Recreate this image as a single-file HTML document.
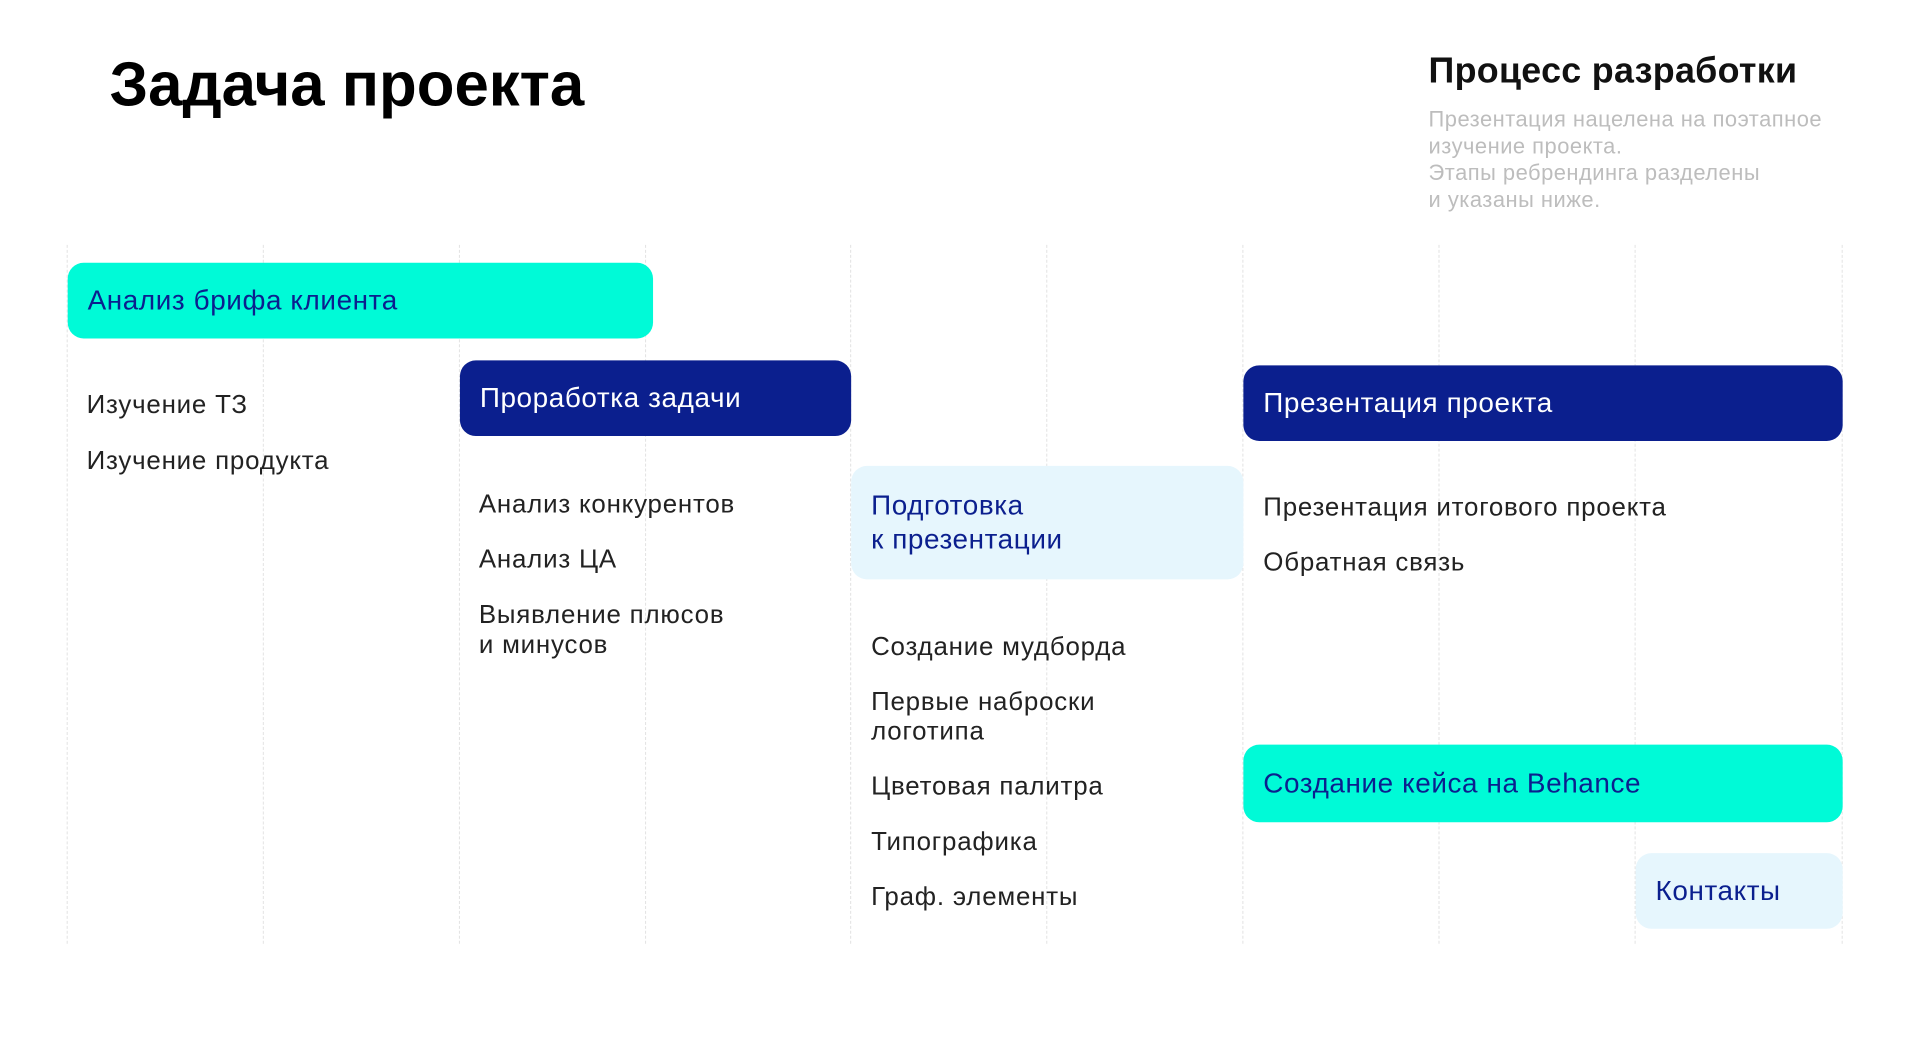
<!DOCTYPE html>
<html><head><meta charset="utf-8"><style>
html,body{margin:0;padding:0;background:#fff;}
body{width:1920px;height:1044px;position:relative;overflow:hidden;font-family:"Liberation Sans","Noto Sans CJK SC",sans-serif;}
#w{position:absolute;left:0;top:0;width:1920px;height:1044px;transform:scale(0.9955);transform-origin:0 0;}
.v{position:absolute;top:246px;height:702px;width:0;border-left:1.5px dashed #e2e2e2;}
.b{position:absolute;border-radius:16px;box-sizing:border-box;padding-left:20px;font-size:28px;letter-spacing:0.6px;display:flex;align-items:center;line-height:34px;}
.cy{background:#00FAD7;color:#0B1F8E;}
.nv{background:#0B1F8E;color:#fff;}
.lt{background:#E6F6FD;color:#0B1F8E;}
.t{position:absolute;font-size:26px;letter-spacing:0.8px;color:#222;line-height:30px;white-space:nowrap;}
</style></head><body><div id="w">
<div style="position:absolute;left:110px;top:50px;font-size:62px;font-weight:bold;color:#000;">Задача проекта</div>
<div style="position:absolute;left:1435px;top:50px;font-size:36px;font-weight:bold;color:#111;letter-spacing:0.3px;">Процесс разработки</div>
<div style="position:absolute;left:1435px;top:106px;font-size:22px;letter-spacing:0.5px;line-height:27px;color:#bdbdbd;">Презентация нацелена на поэтапное<br>изучение проекта.<br>Этапы ребрендинга разделены<br>и указаны ниже.</div>
<div class="v" style="left:67px"></div><div class="v" style="left:264px"></div><div class="v" style="left:461px"></div><div class="v" style="left:648px"></div><div class="v" style="left:854px"></div><div class="v" style="left:1051px"></div><div class="v" style="left:1248px"></div><div class="v" style="left:1445px"></div><div class="v" style="left:1642px"></div><div class="v" style="left:1850px"></div>
<div class="b cy" style="left:68px;top:264px;width:588px;height:76px;">Анализ брифа клиента</div>
<div class="b nv" style="left:462px;top:362px;width:393px;height:76px;">Проработка задачи</div>
<div class="b nv" style="left:1249px;top:367px;width:602px;height:76px;">Презентация проекта</div>
<div class="b lt" style="left:855px;top:468px;width:394px;height:114px;">Подготовка<br>к презентации</div>
<div class="b cy" style="left:1249px;top:748px;width:602px;height:78px;">Создание кейса на Behance</div>
<div class="b lt" style="left:1643px;top:857px;width:208px;height:76px;">Контакты</div>
<div class="t" style="left:87px;top:391px">Изучение ТЗ</div>
<div class="t" style="left:87px;top:447px">Изучение продукта</div>
<div class="t" style="left:481px;top:491px">Анализ конкурентов</div>
<div class="t" style="left:481px;top:546px">Анализ ЦА</div>
<div class="t" style="left:481px;top:602px">Выявление плюсов<br>и минусов</div>
<div class="t" style="left:875px;top:634px">Создание мудборда</div>
<div class="t" style="left:875px;top:689px">Первые наброски<br>логотипа</div>
<div class="t" style="left:875px;top:774px">Цветовая палитра</div>
<div class="t" style="left:875px;top:830px">Типографика</div>
<div class="t" style="left:875px;top:885px">Граф. элементы</div>
<div class="t" style="left:1269px;top:494px">Презентация итогового проекта</div>
<div class="t" style="left:1269px;top:549px">Обратная связь</div>
</div></body></html>
